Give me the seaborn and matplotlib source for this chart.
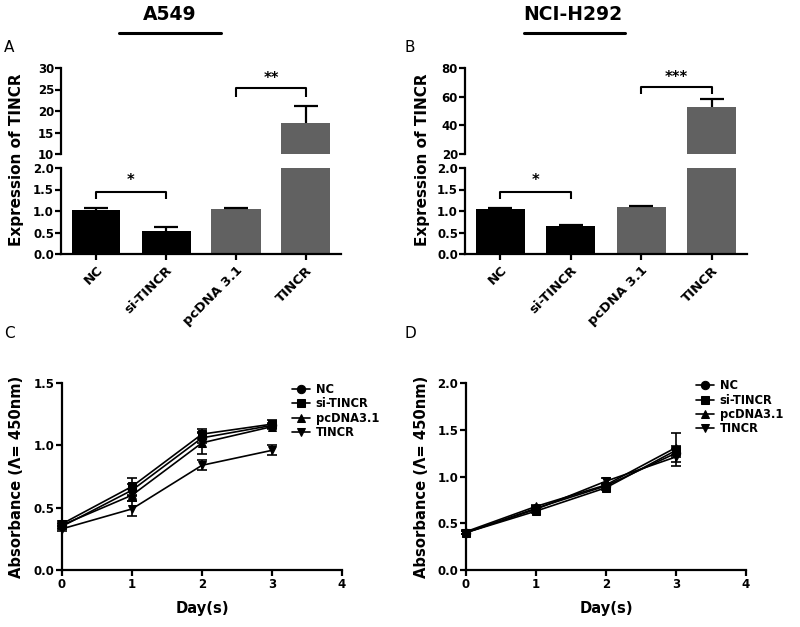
import numpy as np
import pandas as pd
import matplotlib
matplotlib.use("Agg")
import matplotlib.pyplot as plt
import seaborn as sns

# ---------------- data ----------------
categories = ["NC", "si-TINCR", "pcDNA 3.1", "TINCR"]
a549_expr = [1.02, 0.54, 1.04, 17.3]
a549_err = [0.06, 0.08, 0.03, 3.9]
h292_expr = [1.04, 0.65, 1.10, 52.6]
h292_err = [0.04, 0.02, 0.01, 5.5]
bar_colors = ["#000000", "#000000", "#616161", "#616161"]

days = [0, 1, 2, 3]
groups = ["NC", "si-TINCR", "pcDNA3.1", "TINCR"]
group_markers = ["o", "s", "^", "v"]

c_nc = [0.35, 0.64, 1.06, 1.16]
c_si = [0.37, 0.67, 1.09, 1.17]
c_pc = [0.36, 0.60, 1.02, 1.15]
c_ti = [0.33, 0.49, 0.84, 0.96]
c_nc_err = [0.02, 0.05, 0.04, 0.02]
c_si_err = [0.02, 0.07, 0.04, 0.03]
c_pc_err = [0.02, 0.05, 0.09, 0.02]
c_ti_err = [0.02, 0.06, 0.04, 0.04]

d_nc = [0.40, 0.66, 0.90, 1.25]
d_si = [0.40, 0.63, 0.88, 1.28]
d_pc = [0.41, 0.68, 0.91, 1.31]
d_ti = [0.40, 0.65, 0.95, 1.21]
d_nc_err = [0.02, 0.02, 0.02, 0.04]
d_si_err = [0.02, 0.02, 0.02, 0.05]
d_pc_err = [0.02, 0.02, 0.02, 0.15]
d_ti_err = [0.02, 0.02, 0.03, 0.10]

# ---------------- style ----------------
sns.set_style("ticks")
plt.rcParams['font.family'] = ['DejaVu Sans']
plt.rcParams['font.weight'] = 'bold'
plt.rcParams['text.color'] = 'black'
plt.rcParams['axes.labelcolor'] = 'black'
plt.rcParams['axes.linewidth'] = 1.6
plt.rcParams['xtick.major.width'] = 1.6
plt.rcParams['ytick.major.width'] = 1.6
plt.rcParams['xtick.major.size'] = 4
plt.rcParams['ytick.major.size'] = 4
plt.rcParams['xtick.color'] = 'black'
plt.rcParams['ytick.color'] = 'black'
plt.rcParams['xtick.labelcolor'] = 'black'
plt.rcParams['ytick.labelcolor'] = 'black'
plt.rcParams['axes.edgecolor'] = 'black'

W, H = 800, 627
fig = plt.figure(figsize=(8, 6.27), dpi=100)


def px_axes(x0, y_top, x1, y_bot):
    return fig.add_axes([x0 / W, 1 - y_bot / H, (x1 - x0) / W, (y_bot - y_top) / H])


def bracket(ax, x0, x1, ylo, yhi, ytxt, text):
    ax.plot([x0, x0, x1, x1], [ylo, yhi, yhi, ylo], color='black', lw=1.5,
            clip_on=False, solid_capstyle='butt')
    ax.text((x0 + x1) / 2, ytxt, text, ha='center', va='center',
            fontsize=10.5, fontweight='bold', color='black')


def bar_panel(x0, x1, vals, errs, top_lim, top_ticks, br_top, br_text):
    ax_top = px_axes(x0, 68, x1, 154)
    ax_bot = px_axes(x0, 168, x1, 254)
    xs = np.arange(len(vals))
    tops = np.array(vals) + np.array(errs)
    for ax in (ax_top, ax_bot):
        sns.barplot(x=categories, y=vals, hue=categories, palette=bar_colors,
                    width=0.7, errorbar=None, legend=False, saturation=1,
                    ax=ax, edgecolor='none', linewidth=0)
        ax.vlines(xs, vals, tops, color='black', lw=1.6)
        ax.hlines(tops, xs - 0.17, xs + 0.17, color='black', lw=1.6)
        ax.set_xlim(-0.5, 3.5)
        ax.set_xlabel("")
        ax.set_ylabel("")
        for s in ("top", "right"):
            ax.spines[s].set_visible(False)
        ax.tick_params(axis='y', labelsize=8.5, pad=1)
    ax_top.set_ylim(*top_lim)
    ax_top.set_yticks(top_ticks)
    ax_top.set_yticklabels([str(t) for t in top_ticks], fontweight='bold')
    ax_top.spines['bottom'].set_visible(False)
    ax_top.tick_params(axis='x', bottom=False, labelbottom=False)
    ax_bot.set_ylim(0, 2)
    ax_bot.set_yticks([0, 0.5, 1.0, 1.5, 2.0])
    ax_bot.set_yticklabels(["0.0", "0.5", "1.0", "1.5", "2.0"], fontweight='bold')
    ax_bot.set_xticks(range(4))
    ax_bot.set_xticklabels(categories, rotation=45, ha='right',
                           rotation_mode='anchor', fontsize=9.5, fontweight='bold')
    ax_bot.tick_params(axis='x', pad=3)
    bracket(ax_bot, 0, 1, 1.27, 1.45, 1.70, "*")
    bracket(ax_top, 2, 3, br_top[0], br_top[1], br_top[2], br_text)
    return ax_top, ax_bot


bar_panel(61, 341, a549_expr, a549_err, (10, 30), [10, 15, 20, 25, 30],
          (23.3, 25.4, 27.6), "**")
bar_panel(465, 747, h292_expr, h292_err, (20, 80), [20, 40, 60, 80],
          (61.6, 66.5, 73.5), "***")

fig.text(17 / W, 1 - 160 / H, "Expression of TINCR", rotation=90,
         ha='center', va='center', fontsize=11, fontweight='bold')
fig.text(422 / W, 1 - 160 / H, "Expression of TINCR", rotation=90,
         ha='center', va='center', fontsize=11, fontweight='bold')

# titles with underline
fig.text(170 / W, 1 - 15 / H, "A549", ha='center', va='center',
         fontsize=13.5, fontweight='bold')
fig.text(573 / W, 1 - 15 / H, "NCI-H292", ha='center', va='center',
         fontsize=13.5, fontweight='bold')
fig.add_artist(plt.Line2D([119 / W, 221 / W], [1 - 33 / H, 1 - 33 / H],
                          color='black', lw=2.2))
fig.add_artist(plt.Line2D([524 / W, 625 / W], [1 - 33 / H, 1 - 33 / H],
                          color='black', lw=2.2))

# panel letters
for letter, x, y in [("A", 4, 47), ("B", 404, 47), ("C", 4, 333), ("D", 404, 333)]:
    fig.text(x / W, 1 - y / H, letter, ha='left', va='center', fontsize=11,
             fontweight='normal')


# ---------------- line panels ----------------
def line_panel(x0, x1, ymax, yticks, series, series_err, leg_y):
    ax = px_axes(x0, 383, x1, 570)
    for g, m, vals, errs in zip(groups, group_markers, series, series_err):
        sns.lineplot(x=days, y=vals, color='black', marker=m, markersize=6,
                     markeredgecolor='black', linewidth=1.2, label=g, ax=ax,
                     clip_on=False)
        ax.errorbar(days, vals, yerr=errs, fmt='none', ecolor='black',
                    elinewidth=1.2, capsize=3.5, capthick=1.2, clip_on=False)
    ax.set_xlim(0, 4)
    ax.set_ylim(0, ymax)
    ax.set_xticks([0, 1, 2, 3, 4])
    ax.set_xticklabels(["0", "1", "2", "3", "4"], fontweight='bold', fontsize=8.5)
    ax.set_yticks(yticks)
    ax.set_yticklabels([f"{t:.1f}" for t in yticks], fontweight='bold', fontsize=8.5)
    ax.tick_params(axis='both', pad=1.5)
    for s in ("top", "right"):
        ax.spines[s].set_visible(False)
    ax.set_xlabel("Day(s)", fontsize=10.6, fontweight='bold')
    ax.xaxis.set_label_coords(0.5, -(609 - 570) / 187)
    ax.set_ylabel("Absorbance (Λ= 450nm)", fontsize=10.6, fontweight='bold')
    ax.yaxis.set_label_coords(-(62 - 17) / 280, 0.5)
    ax.xaxis.label.set_va('center')
    ax.yaxis.label.set_va('center')
    leg = ax.legend(loc='upper left', bbox_to_anchor=(0.82, leg_y), frameon=False,
                    prop={'weight': 'bold', 'size': 8.3}, handlelength=1.6,
                    handletextpad=0.5, labelspacing=0.12, borderaxespad=0,
                    borderpad=0)
    for t in leg.get_texts():
        t.set_color('black')
    return ax


line_panel(62, 342, 1.5, [0.0, 0.5, 1.0, 1.5],
           [c_nc, c_si, c_pc, c_ti], [c_nc_err, c_si_err, c_pc_err, c_ti_err], 1.0)
line_panel(466, 746, 2.0, [0.0, 0.5, 1.0, 1.5, 2.0],
           [d_nc, d_si, d_pc, d_ti], [d_nc_err, d_si_err, d_pc_err, d_ti_err], 1.02)

fig.savefig("out.png", dpi=100)
